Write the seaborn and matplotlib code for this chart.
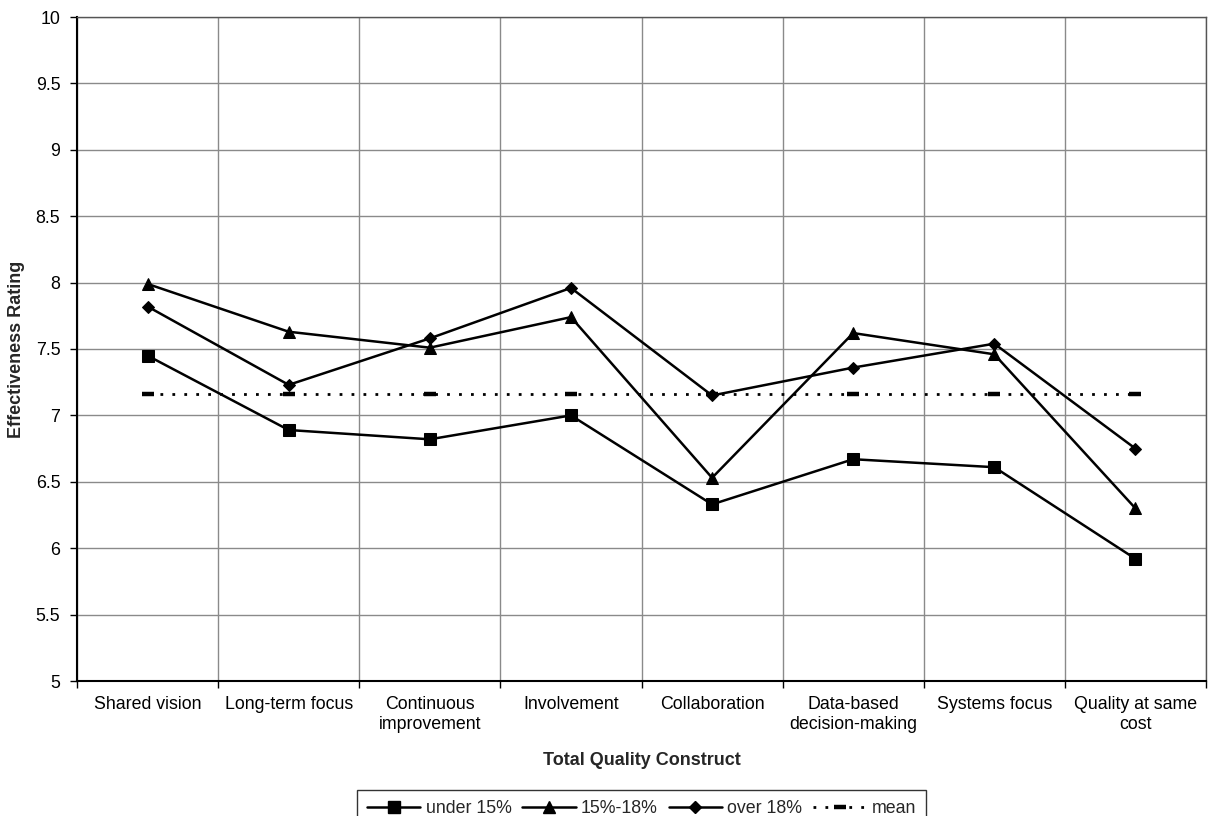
import matplotlib
matplotlib.use("Agg")
import matplotlib.pyplot as plt
from matplotlib.lines import Line2D
import numpy as np
import pandas as pd
import seaborn as sns

# Total quality constructs on the x axis
constructs = [
    "Shared vision",
    "Long-term focus",
    "Continuous\nimprovement",
    "Involvement",
    "Collaboration",
    "Data-based\ndecision-making",
    "Systems focus",
    "Quality at same\ncost",
]

# Mean effectiveness ratings per group
under_15 = [7.45, 6.89, 6.82, 7.00, 6.33, 6.67, 6.61, 5.92]
pct_15_18 = [7.99, 7.63, 7.51, 7.74, 6.53, 7.62, 7.46, 6.30]
over_18 = [7.82, 7.23, 7.58, 7.96, 7.15, 7.36, 7.54, 6.75]
overall_mean = [7.16] * len(constructs)

series_names = ["under 15%", "15%-18%", "over 18%"]

y_ticks = [5, 5.5, 6, 6.5, 7, 7.5, 8, 8.5, 9, 9.5, 10]
y_tick_labels = ["5", "5.5", "6", "6.5", "7", "7.5", "8", "8.5", "9", "9.5", "10"]

sns.set_theme(style="white")
plt.rcParams["font.family"] = ["Liberation Sans", "DejaVu Sans"]

df = pd.DataFrame({
    "construct": constructs * 3,
    "rating": under_15 + pct_15_18 + over_18,
    "group": [n for n in series_names for _ in constructs],
})
mean_df = pd.DataFrame({"construct": constructs, "rating": overall_mean})

fig = plt.figure(figsize=(12.17, 8.16), dpi=100)
ax = fig.add_axes([77 / 1217, 1 - 681 / 816, (1206 - 77) / 1217, (681 - 17) / 816])

marker_style = {
    "under 15%": dict(marker="s", markersize=8),
    "15%-18%": dict(marker="^", markersize=8.5),
    "over 18%": dict(marker="D", markersize=6.2),
}
mean_style = dict(color="black", linewidth=2.0, linestyle=(0, (1, 3.3)),
                  marker="_", markersize=9, markeredgewidth=3.2,
                  markeredgecolor="black", markerfacecolor="black")

for name in series_names:
    sub = df[df["group"] == name]
    sns.lineplot(data=sub, x="construct", y="rating", sort=False, ax=ax,
                 color="black", linewidth=1.8, markeredgecolor="black",
                 markerfacecolor="black", label=name, legend=False,
                 zorder=3, **marker_style[name])

sns.lineplot(data=mean_df, x="construct", y="rating", sort=False, ax=ax,
             legend=False, zorder=2, **mean_style)

n = len(constructs)
ax.set_xlim(-0.5, n - 0.5)
ax.set_ylim(5, 10)
ax.set_yticks(y_ticks)
ax.set_yticklabels(y_tick_labels)

# category labels at centres, boundary ticks and vertical grid between categories
ax.set_xticks(np.arange(n))
ax.set_xticklabels(constructs)
ax.set_xticks(np.arange(n + 1) - 0.5, minor=True)
ax.tick_params(axis="x", which="major", length=0, pad=11, labelsize=12.8, colors="black")
ax.tick_params(axis="x", which="minor", length=5, width=1, color="black", direction="out", bottom=True)
ax.tick_params(axis="y", which="major", length=5, width=1, color="black", direction="out",
               left=True, pad=7, labelsize=12.8, labelcolor="black")

ax.grid(False)
ax.xaxis.grid(True, which="minor", color="#8a8a8a", linewidth=1.0)
ax.yaxis.grid(True, which="major", color="#8a8a8a", linewidth=1.0)
ax.set_axisbelow(True)

for side in ["left", "bottom"]:
    ax.spines[side].set_color("black")
    ax.spines[side].set_linewidth(1.5)
for side in ["top", "right"]:
    ax.spines[side].set_color("#555555")
    ax.spines[side].set_linewidth(1.0)

ax.set_xlabel("Total Quality Construct", fontsize=13, fontweight="bold", labelpad=14)
ax.set_ylabel("Effectiveness Rating", fontsize=13, fontweight="bold", labelpad=8)

handles = [
    Line2D([], [], color="black", linewidth=1.8, markerfacecolor="black",
           markeredgecolor="black", **marker_style[name])
    for name in series_names
]
handles.append(Line2D([], [], **mean_style))
leg = fig.legend(handles, series_names + ["mean"], loc="upper center",
                 bbox_to_anchor=(641.5 / 1217, 1 - 790 / 816), ncol=4,
                 frameon=True, fancybox=False, shadow=False, fontsize=12.8,
                 handlelength=3.0, handletextpad=0.3, columnspacing=0.6,
                 borderpad=0.55, borderaxespad=0)
leg.get_frame().set_edgecolor("black")
leg.get_frame().set_linewidth(1.0)

fig.savefig("out.png", dpi=100)
